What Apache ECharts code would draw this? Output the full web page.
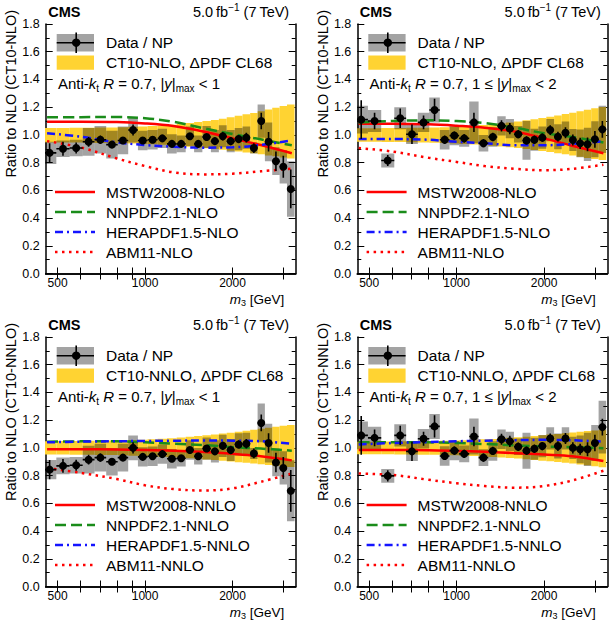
<!DOCTYPE html>
<html><head><meta charset="utf-8">
<script src="https://cdn.jsdelivr.net/npm/echarts@6/dist/echarts.min.js"></script>
<style>html,body{margin:0;padding:0;background:#fff}#c{width:610px;height:623px}</style>
</head><body><div id="c"></div>
<script>
// ---------- binning and tick values ----------
const m3Edges = [445, 495, 550, 610, 670, 735, 805, 875, 945, 1020, 1105, 1190, 1285, 1380, 1475, 1575, 1685, 1795, 1910, 2035, 2165, 2300, 2440, 2585, 2740, 2905, 3080, 3270];
const xTickValues = [500, 600, 700, 800, 900, 1000, 2000, 3000];
const xLabelValues = [500, 1000, 2000];
const curveM = [460, 600, 800, 1000, 1250, 1600, 2000, 2500, 3200];

// ---------- top-left: NLO, |y|max < 1 ----------
const dataTL = [0.87,0.90,0.905,0.95,0.965,0.93,0.96,1.035,0.96,0.965,0.975,0.935,0.935,0.99,0.935,0.985,0.955,0.99,0.955,0.97,0.98,0.905,1.10,0.95,0.81,0.77,0.61];
const statTL = [0.07,0.05,0.04,0.035,0.03,0.015,0.015,0.04,0.02,0.015,0.015,0.015,0.015,0.02,0.02,0.02,0.025,0.03,0.03,0.03,0.035,0.035,0.06,0.07,0.07,0.08,0.14];
const sysTL = [0.08,0.06,0.06,0.1,0.1,0.1,0.1,0.09,0.07,0.07,0.07,0.07,0.06,0.07,0.06,0.08,0.08,0.08,0.08,0.08,0.08,0.04,0.12,0.14,0.1,0.12,0.2];
const bandHiTL = [1.05,1.05,1.051,1.052,1.053,1.054,1.056,1.058,1.06,1.064,1.068,1.073,1.079,1.086,1.093,1.1,1.108,1.117,1.128,1.138,1.148,1.158,1.17,1.183,1.196,1.208,1.22];
const bandLoTL = [0.945,0.945,0.945,0.944,0.942,0.941,0.939,0.937,0.935,0.932,0.929,0.925,0.92,0.914,0.909,0.904,0.898,0.892,0.886,0.88,0.873,0.867,0.86,0.852,0.845,0.837,0.83];
const mstwTL = [1.095,1.095,1.093,1.083,1.064,1.023,0.975,0.927,0.868];
const nnpdfTL = [1.127,1.128,1.129,1.12,1.095,1.047,1.006,0.968,0.925];
const heraTL = [1.012,0.987,0.946,0.927,0.915,0.908,0.91,0.927,0.96];
const abmTL = [0.955,0.91,0.83,0.775,0.73,0.715,0.72,0.737,0.757];

// ---------- top-right: NLO, 1 <= |y|max < 2 ----------
const dataTR = [1.11,1.10,0.815,1.12,1.005,1.09,1.18,0.965,0.995,0.975,1.09,0.94,0.985,1.065,1.045,1.005,0.96,0.965,0.98,1.035,0.987,1.016,0.963,0.939,0.932,0.968,1.04];
const statTR = [0.14,0.06,0.04,0.07,0.07,0.05,0.08,0.03,0.03,0.03,0.07,0.03,0.03,0.04,0.04,0.03,0.03,0.03,0.03,0.035,0.035,0.04,0.04,0.04,0.05,0.06,0.06];
const sysTR = [0.1,0.08,0.05,0.08,0.07,0.07,0.09,0.07,0.07,0.06,0.15,0.06,0.07,0.07,0.07,0.06,0.14,0.08,0.08,0.08,0.09,0.08,0.08,0.1,0.12,0.13,0.17];
const bandHiTR = [1.048,1.048,1.049,1.05,1.051,1.052,1.054,1.056,1.058,1.062,1.066,1.071,1.077,1.083,1.09,1.097,1.105,1.113,1.122,1.131,1.14,1.15,1.16,1.171,1.182,1.192,1.202];
const bandLoTR = [0.95,0.95,0.949,0.948,0.947,0.945,0.943,0.941,0.938,0.935,0.931,0.927,0.922,0.917,0.911,0.905,0.898,0.891,0.884,0.876,0.868,0.86,0.852,0.843,0.834,0.826,0.818];
const mstwTR = [1.08,1.08,1.076,1.066,1.052,1.023,0.975,0.922,0.868];
const nnpdfTR = [1.09,1.1,1.105,1.1,1.085,1.05,1.012,0.985,0.945];
const heraTR = [0.97,0.97,0.965,0.95,0.94,0.925,0.925,0.935,0.955];
const abmTR = [0.905,0.88,0.835,0.805,0.775,0.755,0.745,0.755,0.785];

// ---------- bottom-left: NNLO, |y|max < 1 ----------
const dataBL = [0.843,0.87,0.875,0.915,0.93,0.9,0.93,1.0,0.935,0.94,0.955,0.922,0.925,0.985,0.94,0.995,0.975,1.015,0.985,1.025,1.03,0.96,1.18,1.035,0.895,0.855,0.69];
const statBL = [0.07,0.05,0.04,0.035,0.03,0.015,0.015,0.04,0.02,0.015,0.015,0.015,0.015,0.02,0.02,0.02,0.025,0.03,0.03,0.03,0.035,0.035,0.06,0.07,0.07,0.08,0.15];
const sysBL = [0.07,0.06,0.06,0.1,0.1,0.1,0.1,0.09,0.07,0.07,0.07,0.07,0.06,0.07,0.06,0.08,0.08,0.08,0.08,0.08,0.08,0.04,0.14,0.14,0.1,0.12,0.22];
const bandHiBL = [1.048,1.049,1.05,1.051,1.052,1.053,1.055,1.057,1.059,1.062,1.066,1.07,1.075,1.08,1.085,1.091,1.097,1.103,1.11,1.117,1.124,1.131,1.138,1.145,1.152,1.159,1.166];
const bandLoBL = [0.952,0.952,0.951,0.95,0.949,0.948,0.946,0.944,0.942,0.939,0.936,0.933,0.929,0.925,0.921,0.917,0.912,0.907,0.902,0.897,0.892,0.887,0.882,0.877,0.872,0.867,0.862];
const mstwBL = [0.99,0.99,0.988,0.985,0.98,0.97,0.957,0.94,0.91];
const nnpdfBL = [1.045,1.047,1.047,1.04,1.03,1.02,1.005,0.995,0.98];
const heraBL = [1.04,1.045,1.048,1.05,1.052,1.053,1.052,1.048,1.03];
const abmBL = [0.855,0.82,0.775,0.73,0.703,0.692,0.708,0.755,0.815];

// ---------- bottom-right: NNLO, 1 <= |y|max < 2 ----------
const dataBR = [1.09,1.072,0.798,1.09,0.975,1.066,1.155,0.942,0.98,0.957,1.082,0.93,0.978,1.062,1.047,1.008,0.98,0.994,1.013,1.068,1.013,1.068,1.0,0.99,0.99,1.035,1.15];
const statBR = [0.14,0.06,0.04,0.07,0.07,0.05,0.08,0.03,0.03,0.03,0.07,0.03,0.03,0.04,0.04,0.03,0.03,0.03,0.03,0.035,0.035,0.04,0.04,0.04,0.05,0.06,0.06];
const sysBR = [0.1,0.08,0.05,0.08,0.07,0.07,0.09,0.07,0.07,0.06,0.13,0.06,0.07,0.07,0.07,0.06,0.13,0.08,0.08,0.08,0.09,0.08,0.08,0.1,0.12,0.13,0.19];
const bandHiBR = [1.045,1.045,1.046,1.047,1.048,1.049,1.05,1.052,1.054,1.056,1.059,1.062,1.065,1.069,1.073,1.077,1.081,1.086,1.091,1.096,1.101,1.106,1.111,1.116,1.121,1.126,1.131];
const bandLoBR = [0.955,0.955,0.954,0.953,0.952,0.951,0.95,0.948,0.946,0.944,0.941,0.938,0.935,0.931,0.927,0.923,0.918,0.913,0.908,0.903,0.898,0.893,0.887,0.881,0.875,0.868,0.861];
const mstwBR = [0.985,0.985,0.983,0.978,0.972,0.962,0.952,0.94,0.905];
const nnpdfBR = [1.04,1.04,1.04,1.035,1.028,1.018,1.01,1.005,0.998];
const heraBR = [1.025,1.035,1.042,1.048,1.052,1.056,1.058,1.055,1.045];
const abmBR = [0.815,0.805,0.77,0.745,0.725,0.713,0.725,0.765,0.835];

// ---------- text ----------
const namesNLO = ['MSTW2008-NLO', 'NNPDF2.1-NLO', 'HERAPDF1.5-NLO', 'ABM11-NLO'];
const namesNNLO = ['MSTW2008-NNLO', 'NNPDF2.1-NNLO', 'HERAPDF1.5-NNLO', 'ABM11-NNLO'];

const FONT = 'Liberation Sans, Arial, Helvetica, sans-serif';
const LF = 15.5;   // legend font size
const TF = 12;     // tick label font size
const W = 250, H = 249.5;
const panels = [
  {left:45.7, top:24, data:dataTL, stat:statTL, sys:sysTL, hi:bandHiTL, lo:bandLoTL, curves:[mstwTL,nnpdfTL,heraTL,abmTL], names:namesNLO, ylab:'Ratio to NLO (CT10-NLO)', band:'CT10-NLO, \u0394PDF CL68', sel:'{n|Anti-}{i|k}{sub|t}{n| }{i|R}{n| = 0.7, |}{i|y}{n||}{sub|max}{n| < 1}'},
  {left:357.3, top:24, data:dataTR, stat:statTR, sys:sysTR, hi:bandHiTR, lo:bandLoTR, curves:[mstwTR,nnpdfTR,heraTR,abmTR], names:namesNLO, ylab:'Ratio to NLO (CT10-NLO)', band:'CT10-NLO, \u0394PDF CL68', sel:'{n|Anti-}{i|k}{sub|t}{n| }{i|R}{n| = 0.7, 1 \u2264 |}{i|y}{n||}{sub|max}{n| < 2}'},
  {left:45.7, top:337, data:dataBL, stat:statBL, sys:sysBL, hi:bandHiBL, lo:bandLoBL, curves:[mstwBL,nnpdfBL,heraBL,abmBL], names:namesNNLO, ylab:'Ratio to NLO (CT10-NNLO)', band:'CT10-NNLO, \u0394PDF CL68', sel:'{n|Anti-}{i|k}{sub|t}{n| }{i|R}{n| = 0.7, |}{i|y}{n||}{sub|max}{n| < 1}'},
  {left:357.3, top:337, data:dataBR, stat:statBR, sys:sysBR, hi:bandHiBR, lo:bandLoBR, curves:[mstwBR,nnpdfBR,heraBR,abmBR], names:namesNNLO, ylab:'Ratio to NLO (CT10-NNLO)', band:'CT10-NNLO, \u0394PDF CL68', sel:'{n|Anti-}{i|k}{sub|t}{n| }{i|R}{n| = 0.7, 1 \u2264 |}{i|y}{n||}{sub|max}{n| < 2}'}
];

const YELLOW = '#FFD332', GREYBOX = 'rgba(0,0,0,0.36)', LEGGREY = '#A3A3A3';
const RED = '#FF0000', GREEN = '#1A8C1A', BLUE = '#1414FF';
const curveStyles = [
  {color:RED, type:'solid'},
  {color:GREEN, type:[11,5]},
  {color:BLUE, type:[8,4,2,4]},
  {color:RED, type:[2.5,4.5]}
];
function richSet(fs){
  return {
    n:{fontSize:fs, fontFamily:FONT, lineHeight:fs+4, color:'#000'},
    i:{fontSize:fs, fontFamily:FONT, lineHeight:fs+4, fontStyle:'italic', color:'#000'},
    sub:{fontSize:Math.round(fs*0.68), fontFamily:FONT, lineHeight:Math.round(fs*0.68), verticalAlign:'bottom', color:'#000'},
    sup:{fontSize:Math.round(fs*0.68), fontFamily:FONT, lineHeight:Math.round(fs*0.68), verticalAlign:'top', color:'#000'}
  };
}
const richL = richSet(15), richT = richSet(14.5), richX = richSet(13.5);

function rectItem(fill){
  return function(params, api){
    const a = api.coord([api.value(0), api.value(3)]);
    const b = api.coord([api.value(1), api.value(2)]);
    return {type:'rect', shape:{x:a[0], y:a[1], width:b[0]-a[0], height:b[1]-a[1]}, style:{fill:fill}};
  };
}
function pointItem(params, api){
  const x0 = api.value(0), x1 = api.value(1), v = api.value(2), e = api.value(3);
  const xc = Math.sqrt(x0*x1);
  const l = api.coord([x0, v]), r = api.coord([x1, v]), c = api.coord([xc, v]);
  const t = api.coord([xc, v+e]), b = api.coord([xc, v-e]);
  return {type:'group', children:[
    {type:'line', shape:{x1:l[0], y1:l[1], x2:r[0], y2:r[1]}, style:{stroke:'#000', lineWidth:1.6}},
    {type:'line', shape:{x1:c[0], y1:t[1], x2:c[0], y2:b[1]}, style:{stroke:'#000', lineWidth:1.6}},
    {type:'circle', shape:{cx:c[0], cy:c[1], r:4}, style:{fill:'#000'}}
  ]};
}

const grid = [], xAxis = [], yAxis = [], series = [], graphic = [];
panels.forEach(function(p, i){
  grid.push({left:p.left, top:p.top, width:W, height:H});
  const xBase = {type:'log', gridIndex:i, min:455, max:3300,
    axisLine:{show:true, lineStyle:{color:'#000', width:1.5}},
    axisTick:{show:true, inside:true, length:6, customValues:xTickValues, lineStyle:{color:'#000', width:1}},
    splitLine:{show:false}, minorTick:{show:false}};
  xAxis.push(Object.assign({}, xBase, {position:'bottom',
    axisLabel:{show:true, customValues:xLabelValues, color:'#000', fontSize:TF, fontFamily:FONT, margin:3,
      formatter:function(v){ return String(Math.round(v)); }}}));
  xAxis.push(Object.assign({}, xBase, {position:'top', axisLabel:{show:false}}));
  const yBase = {type:'value', gridIndex:i, min:0, max:1.8, interval:0.2,
    axisLine:{show:true, lineStyle:{color:'#000', width:1.5}},
    axisTick:{show:true, inside:true, length:7, lineStyle:{color:'#000', width:1}},
    minorTick:{show:true, splitNumber:2, length:4, lineStyle:{color:'#000', width:1}},
    splitLine:{show:false}};
  yAxis.push(Object.assign({}, yBase, {position:'left',
    axisLabel:{show:true, color:'#000', fontSize:12.5, fontFamily:FONT, margin:6, formatter:function(v){return v.toFixed(1);}}}));
  yAxis.push(Object.assign({}, yBase, {position:'right', axisLabel:{show:false}}));
  const xi = 2*i, yi = 2*i;
  const bins = p.data.map(function(v, k){ return k; });
  series.push({type:'custom', xAxisIndex:xi, yAxisIndex:yi, clip:true, z:1, silent:true,
    renderItem:rectItem(YELLOW), encode:{x:[0,1], y:[2,3]},
    data:bins.map(function(k){ return [m3Edges[k], m3Edges[k+1], p.lo[k], p.hi[k]]; })});
  series.push({type:'custom', xAxisIndex:xi, yAxisIndex:yi, clip:true, z:2, silent:true,
    renderItem:rectItem(GREYBOX), encode:{x:[0,1], y:[2,3]},
    data:bins.map(function(k){ return [m3Edges[k], m3Edges[k+1], p.data[k]-p.sys[k], p.data[k]+p.sys[k]]; })});
  p.curves.forEach(function(arr, c){
    series.push({type:'line', name:p.names[c], xAxisIndex:xi, yAxisIndex:yi, z:3, smooth:0.35, symbol:'none', silent:true,
      lineStyle:{color:curveStyles[c].color, width:2.5, type:curveStyles[c].type},
      data:curveM.map(function(m, k){ return [m, arr[k]]; })});
  });
  series.push({type:'custom', xAxisIndex:xi, yAxisIndex:yi, clip:true, z:4, silent:true,
    renderItem:pointItem, encode:{x:[0,1], y:2},
    data:bins.map(function(k){ return [m3Edges[k], m3Edges[k+1], p.data[k], p.stat[k]]; })});

  // ----- annotations & legend -----
  const L = p.left, T = p.top, R = p.left + W, B = p.top + H;
  graphic.push({type:'text', x:L+2.5, y:T-12, style:{text:'CMS', fontSize:14.5, fontWeight:'bold', fontFamily:FONT, fill:'#000', verticalAlign:'middle'}});
  graphic.push({type:'text', x:R-6.5, y:T-12, style:{text:'{n|5.0\u2009fb}{sup|\u22121}{n| (7\u2009TeV)}', rich:richT, align:'right', verticalAlign:'middle'}});
  graphic.push({type:'text', x:L-34.5, y:T-14, rotation:Math.PI/2, style:{text:p.ylab, fontSize:14.5, fontFamily:FONT, fill:'#000', align:'right', verticalAlign:'middle'}});
  graphic.push({type:'text', x:R-11.5, y:B+25.5, style:{text:'{i|m}{sub|3}{n| [GeV]}', rich:richX, align:'right', verticalAlign:'middle'}});
  // data legend
  graphic.push({type:'rect', shape:{x:L+11, y:T+10, width:37.3, height:17.4}, style:{fill:LEGGREY}});
  graphic.push({type:'line', shape:{x1:L+11, y1:T+18.7, x2:L+48.3, y2:T+18.7}, style:{stroke:'#000', lineWidth:1.6}});
  graphic.push({type:'line', shape:{x1:L+30.5, y1:T+8.5, x2:L+30.5, y2:T+29}, style:{stroke:'#000', lineWidth:1.6}});
  graphic.push({type:'circle', shape:{cx:L+30.5, cy:T+18.7, r:4.2}, style:{fill:'#000'}});
  graphic.push({type:'text', x:L+60.3, y:T+18.7, style:{text:'Data / NP', fontSize:LF, fontFamily:FONT, fill:'#000', verticalAlign:'middle'}});
  graphic.push({type:'rect', shape:{x:L+11, y:T+31.5, width:37.3, height:14.3}, style:{fill:YELLOW}});
  graphic.push({type:'text', x:L+60.3, y:T+38.7, style:{text:p.band, fontSize:LF, fontFamily:FONT, fill:'#000', verticalAlign:'middle'}});
  graphic.push({type:'text', x:L+12.3, y:T+59.5, style:{text:p.sel, rich:richL, verticalAlign:'middle'}});
  p.names.forEach(function(nm, c){
    const yy = T + 168 + 20*c;
    graphic.push({type:'line', shape:{x1:L+9.3, y1:yy, x2:L+49.3, y2:yy}, style:{stroke:curveStyles[c].color, lineWidth:2.5, lineDash:(curveStyles[c].type==='solid'?null:curveStyles[c].type)}});
    graphic.push({type:'text', x:L+60.3, y:yy, style:{text:nm, fontSize:LF, fontFamily:FONT, fill:'#000', verticalAlign:'middle'}});
  });
});

const chart = echarts.init(document.getElementById('c'), null, {renderer:'svg', width:610, height:623});
chart.setOption({
  animation:false,
  backgroundColor:'#fff',
  grid:grid, xAxis:xAxis, yAxis:yAxis, series:series, graphic:graphic
});
</script>
</body></html>
